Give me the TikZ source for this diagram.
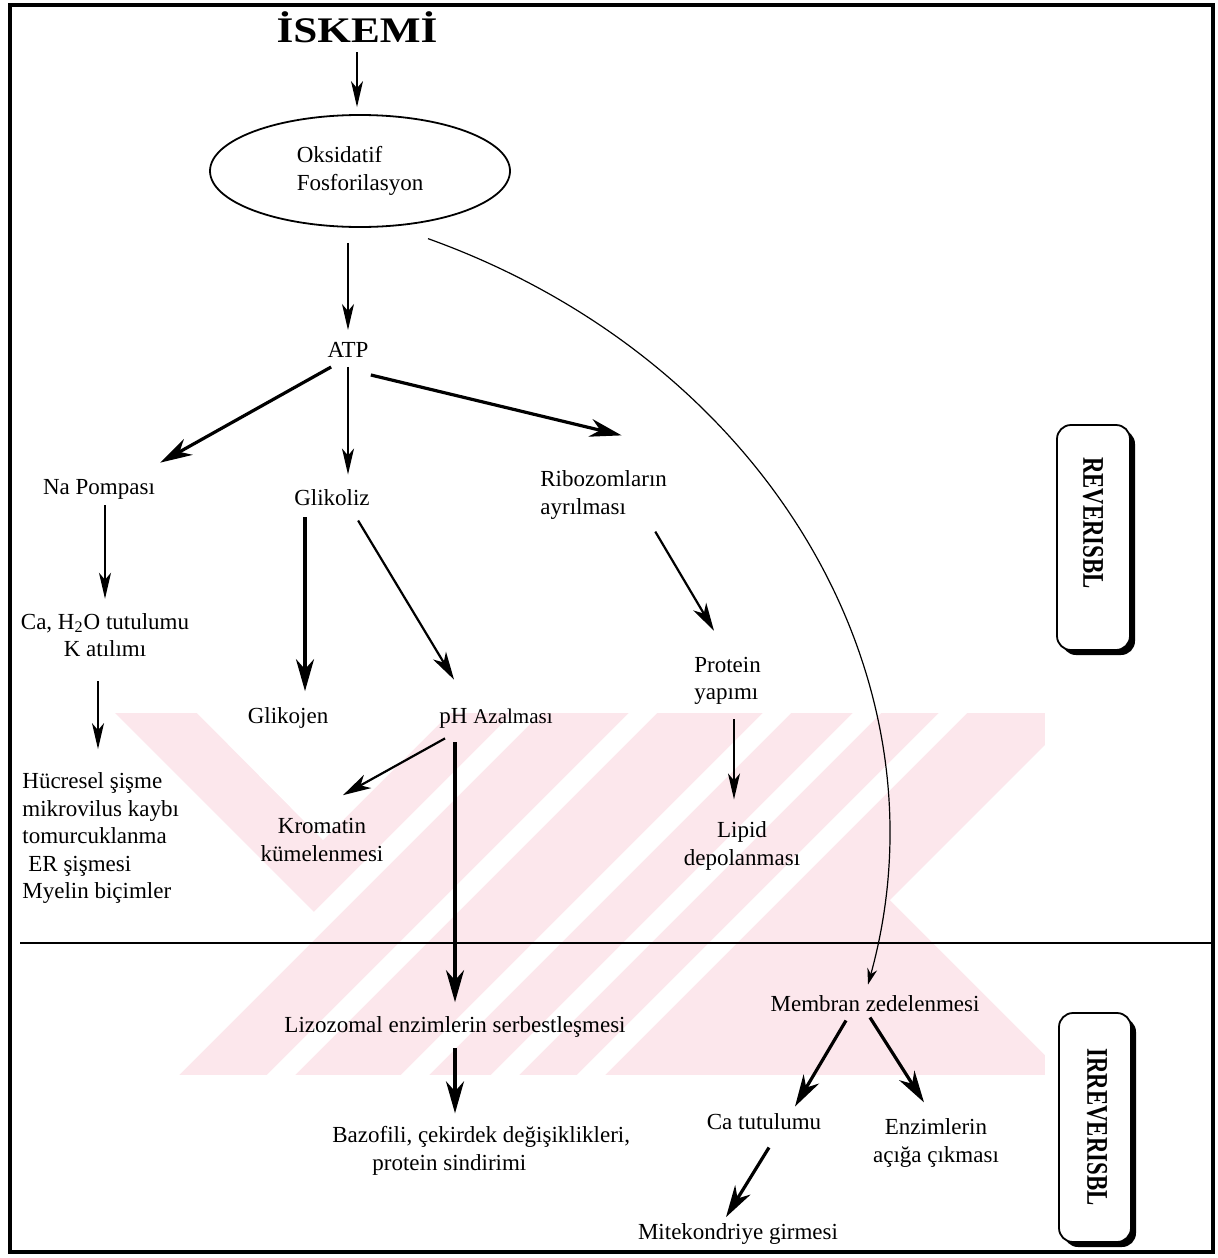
\documentclass[tikz,border=0pt]{standalone}
\usepackage{fontspec}
\setmainfont{Liberation Serif}
\usetikzlibrary{arrows.meta,shapes.geometric,shadows}
\definecolor{filigran}{RGB}{252,231,236}
\newcommand{\yazi}{\fontsize{11.5}{13.75}\selectfont}

\begin{document}
\begin{tikzpicture}[x=0.5pt,y=-0.5pt,
  every node/.style={font=\yazi,inner sep=1pt},
  ince/.style={line width=0.7pt,-{Stealth[length=13pt,width=6pt,inset=3.5pt]}},
  orta/.style={line width=1.1pt,-{Stealth[length=14pt,width=7.5pt,inset=4pt]}},
  kalin/.style={line width=1.6pt,-{Stealth[length=16pt,width=9pt,inset=5pt]}},
  kutu/.style={draw,line width=0.9pt,rounded corners=7pt,fill=white,
    drop shadow={shadow xshift=2.5pt,shadow yshift=-2.5pt,fill=black,opacity=1}},
  etiket/.style={font=\fontsize{15}{15}\selectfont\bfseries,rotate=-90}]
  \useasboundingbox (0,0) rectangle (1218,1258);

  % filigran
  \begin{scope}
    \clip (103,713) rectangle (1045,1075);
    \fill[filigran] (103,713) rectangle (1045,1075);
    \fill[white] (100,698) -- (317,915) -- (100,1132) -- cycle;
    \fill[white] (197,713) -- (450,713) -- (323,840) -- cycle;
    \fill[white] (1090,700) -- (890,900) -- (1090,1100) -- cycle;
    \foreach \k in {1240,1356,1490,1580,1666}
      \draw[white,line width=10pt] (\k-600,600) -- (\k-1200,1200);
  \end{scope}

  % cerceve
  \draw[line width=1.7pt] (10,5) rectangle (1213,1252);
  \draw[line width=1pt] (20,943) -- (1213,943);

  % dugumler
  \node[font=\fontsize{18}{18}\selectfont\bfseries] (iskemi) at (357,27) {\scalebox{1.2}[1]{İSKEMİ}};
  \node[draw,ellipse,line width=0.9pt,minimum width=150pt,minimum height=56pt,inner sep=0pt,align=left] (oks) at (360,171) {Oksidatif\\Fosforilasyon};
  \node (atp) at (348,350) {ATP};
  \node (napomp) at (99,489) {Na Pompası};
  \node (glikoliz) at (332,498) {Glikoliz};
  \node[align=left,anchor=west] (ribo) at (538,495) {Ribozomların\\ayrılması};
  \node[align=center] (ca) at (105,635) {Ca, H\textsubscript{2}O tutulumu\\K atılımı};
  \node[align=left,anchor=west] (hucre) at (20,838) {Hücresel şişme\\mikrovilus kaybı\\tomurcuklanma\\\hspace*{3pt}ER şişmesi\\Myelin biçimler};
  \node (glikojen) at (288,718) {Glikojen};
  \node (ph) at (496,718) {pH {\fontsize{10.5}{12}\selectfont Azalması}};
  \node[align=center] (krom) at (322,840) {Kromatin\\kümelenmesi};
  \node (lizo) at (455,1027) {Lizozomal enzimlerin serbestleşmesi};
  \node[align=left,anchor=west] (bazo) at (330,1151) {Bazofili, çekirdek değişiklikleri,\\\hspace*{20pt}protein sindirimi};
  \node[align=left,anchor=west] (protein) at (692,681) {Protein\\yapımı};
  \node[align=center] (lipid) at (742,846) {Lipid\\depolanması};
  \node (membran) at (875,1004) {Membran zedelenmesi};
  \node (catut) at (764,1122) {Ca tutulumu};
  \node[align=center] (enz) at (936,1143) {Enzimlerin\\açığa çıkması};
  \node (mito) at (738,1234) {Mitekondriye girmesi};

  % yan kutular
  \node[kutu,minimum width=36.5pt,minimum height=112.5pt] (revk) at (1093.5,537.5) {};
  \node[etiket] (revy) at (1093,523) {\scalebox{0.76}[1]{REVERISBL}};
  \node[kutu,minimum width=36pt,minimum height=114.5pt] (irrevk) at (1095,1127.5) {};
  \node[etiket] (irrevy) at (1097,1127) {\scalebox{0.76}[1]{IRREVERISBL}};

  % oklar
  \draw[ince,shorten <=3.5pt,shorten >=3.5pt] (iskemi.south) -- (iskemi.south |- oks.north);
  \draw[ince,shorten <=7.5pt,shorten >=5pt] (atp |- oks.south) -- (atp.north);
  \draw[kalin] ([shift={(6,7)}]atp.south west) -- ([shift={(3,-14)}]napomp.north east);
  \draw[ince,shorten <=3.5pt,shorten >=6.5pt] (atp.south) -- (atp.south |- glikoliz.north);
  \draw[kalin] ([shift={(0,15)}]atp.south east) -- ([shift={(18,-33)}]ribo.north);
  \draw[ince,shorten <=2pt,shorten >=6pt] (ca.north |- napomp.south) -- (ca.north);
  \draw[ince,shorten <=11pt,shorten >=10.5pt] ([xshift=-3.5pt]ca.south) -- ([xshift=-3.5pt]ca.south |- hucre.north);
  \draw[kalin,shorten <=4.5pt,shorten >=7pt] ([xshift=-13.5pt]glikoliz.south) -- ([xshift=-13.5pt]glikoliz.south |- glikojen.north);
  \draw[orta] ([shift={(-14,12)}]glikoliz.south east) -- ([shift={(17,-26)}]ph.north west);
  \draw[orta] ([shift={(8,8)}]ph.south west) -- ([shift={(21,-21)}]krom.north);
  \draw[kalin,shorten <=6pt,shorten >=6pt] (lizo.north |- ph.south) -- (lizo.north);
  \draw[kalin,shorten <=4pt,shorten >=5.5pt] (lizo.south) -- (lizo.south |- bazo.north);
  \draw[orta] ([shift={(-14,10)}]ribo.south east) -- ([shift={(22,-24)}]protein.north west);
  \draw[ince,shorten <=6pt,shorten >=10pt] ([xshift=-4pt]lipid.north |- protein.south) -- ([xshift=-4pt]lipid.north);

  % membran hasari
  \draw[line width=0.6pt,-{Stealth[length=8pt,width=5pt]}] ([shift={(-14.5,20)}]oks.-30) .. controls (766,360) and (953,677) .. ([shift={(-7,-9)}]membran.north);
  \draw[kalin] ([shift={(-29,6)}]membran.south) -- ([shift={(31,-5)}]catut.north);
  \draw[kalin] ([shift={(-5,3)}]membran.south) -- ([shift={(-12,-14)}]enz.north);
  \draw[kalin] ([shift={(5,15)}]catut.south) -- ([shift={(-12,-4)}]mito.north);
\end{tikzpicture}
\end{document}
